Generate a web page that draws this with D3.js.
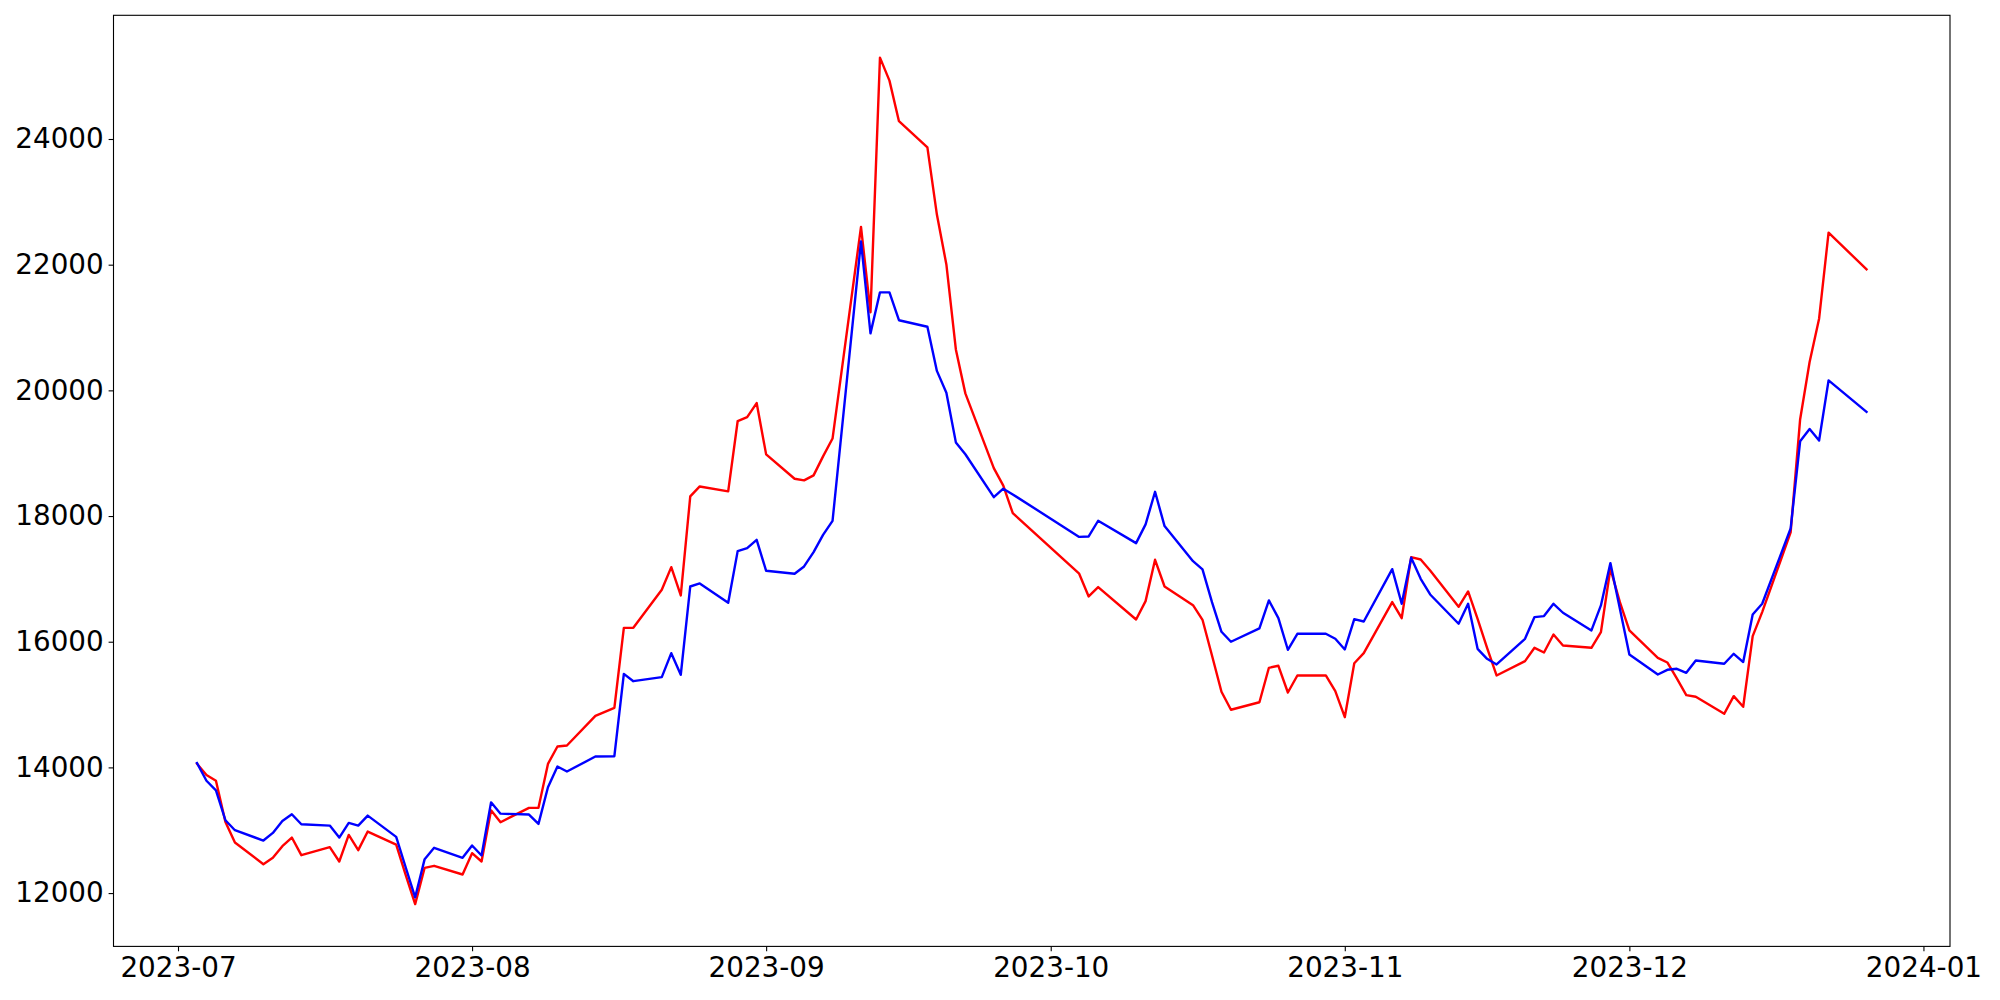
<!DOCTYPE html>
<html>
<head>
<meta charset="utf-8">
<script src="https://cdn.jsdelivr.net/npm/d3@7"></script>
<style>
  html, body { margin: 0; padding: 0; background: #fff; }
  svg { display: block; }
  .tick text { font-family: "DejaVu Sans", sans-serif; font-size: 27.8px; fill: #000; }
</style>
</head>
<body>
<script>
// trading days, Jul 3 - Dec 26 2023
var dates = [
  "2023-07-03","2023-07-04","2023-07-05","2023-07-06","2023-07-07","2023-07-10","2023-07-11","2023-07-12","2023-07-13","2023-07-14",
  "2023-07-17","2023-07-18","2023-07-19","2023-07-20","2023-07-21","2023-07-24","2023-07-25","2023-07-26","2023-07-27","2023-07-28","2023-07-31",
  "2023-08-01","2023-08-02","2023-08-03","2023-08-04","2023-08-07","2023-08-08","2023-08-09","2023-08-10","2023-08-11","2023-08-14",
  "2023-08-16","2023-08-17","2023-08-18","2023-08-21","2023-08-22","2023-08-23","2023-08-24","2023-08-25","2023-08-28","2023-08-29","2023-08-30","2023-08-31",
  "2023-09-01","2023-09-04","2023-09-05","2023-09-06","2023-09-07","2023-09-08","2023-09-11","2023-09-12","2023-09-13","2023-09-14",
  "2023-09-15","2023-09-18","2023-09-19","2023-09-20","2023-09-21","2023-09-22","2023-09-25","2023-09-26","2023-09-27",
  "2023-10-04","2023-10-05","2023-10-06","2023-10-10","2023-10-11","2023-10-12","2023-10-13","2023-10-16","2023-10-17","2023-10-18",
  "2023-10-19","2023-10-20","2023-10-23","2023-10-24","2023-10-25","2023-10-26","2023-10-27","2023-10-30","2023-10-31",
  "2023-11-01","2023-11-02","2023-11-03","2023-11-06","2023-11-07","2023-11-08","2023-11-09","2023-11-10","2023-11-13","2023-11-14",
  "2023-11-15","2023-11-16","2023-11-17","2023-11-20","2023-11-21","2023-11-22","2023-11-23","2023-11-24","2023-11-27","2023-11-28","2023-11-29","2023-11-30",
  "2023-12-01","2023-12-04","2023-12-05","2023-12-06","2023-12-07","2023-12-08","2023-12-11","2023-12-12","2023-12-13","2023-12-14",
  "2023-12-15","2023-12-18","2023-12-19","2023-12-20","2023-12-21","2023-12-22","2023-12-26"
];

var redValues = [
  14058,13878,13788,13132,12804,12460,12561,12746,12884,12603,
  12730,12503,12926,12683,12979,12772,12290,11825,12402,12434,12296,
  12635,12503,13317,13128,13356,13356,14056,14332,14348,14821,
  14948,16221,16221,16826,17187,16736,18312,18471,18392,19512,19575,19798,
  18981,18593,18567,18647,18950,19233,22601,21243,25295,24929,
  24284,23868,22797,22004,20652,19952,18763,18483,18045,
  17082,16720,16869,16354,16646,17304,16879,16582,16349,15781,
  15203,14917,15037,15585,15617,15192,15463,15463,15213,
  14799,15658,15818,16630,16375,17346,17309,17134,16555,16800,
  16365,15903,15463,15691,15903,15829,16115,15940,15903,16152,17161,16630,
  16179,15744,15670,15415,15150,15124,14853,15134,14965,16089,
  16471,17739,19537,20451,21140,22510,21926
];

var blueValues = [
  14069,13788,13635,13159,13000,12836,12958,13148,13254,13095,
  13074,12884,13116,13074,13233,12894,12411,11933,12540,12720,12561,
  12757,12598,13444,13264,13250,13101,13685,14014,13934,14173,
  14178,15489,15372,15436,15818,15473,16879,16927,16619,17442,17490,17622,
  17129,17081,17198,17426,17700,17922,22370,20907,21560,21560,
  21116,21012,20310,19963,19172,18983,18301,18435,18344,
  17668,17675,17925,17569,17867,18386,17840,17282,17150,16630,
  16158,15999,16211,16657,16375,15872,16126,16126,16047,
  15877,16359,16322,17155,16604,17336,17002,16752,16286,16604,
  15887,15728,15638,16047,16392,16408,16604,16461,16180,16578,17251,16524,
  15797,15479,15553,15569,15505,15702,15649,15808,15676,16434,
  16604,17801,19190,19385,19202,20159,19659
];

var yTicks = [12000, 14000, 16000, 18000, 20000, 22000, 24000];
var xTickLabels = ["2023-07","2023-08","2023-09","2023-10","2023-11","2023-12","2024-01"];

var width = 2000, height = 1000;
var margin = {top: 15.3, right: 50, bottom: 53.6, left: 113.5};
var pw = width - margin.left - margin.right,
    ph = height - margin.top - margin.bottom;

var parse = d3.timeParse("%Y-%m-%d");
var parseMonth = d3.timeParse("%Y-%m");
var xs = dates.map(parse);

// 5% margins like the original
var xExt = d3.extent(xs);
var xPad = (xExt[1] - xExt[0]) * 0.05;
var allVals = redValues.concat(blueValues);
var yExt = d3.extent(allVals);
var yPad = (yExt[1] - yExt[0]) * 0.05;

var x = d3.scaleTime()
  .domain([new Date(+xExt[0] - xPad), new Date(+xExt[1] + xPad)])
  .range([0, pw]);
var y = d3.scaleLinear()
  .domain([yExt[0] - yPad, yExt[1] + yPad])
  .range([ph, 0]);

var svg = d3.select("body").append("svg")
  .attr("width", width)
  .attr("height", height);

var g = svg.append("g")
  .attr("transform", "translate(" + margin.left + "," + margin.top + ")");

var line = d3.line()
  .x(function(d, i) { return x(xs[i]); })
  .y(function(d) { return y(d); });

var series = [
  {values: redValues, color: "#ff0000"},
  {values: blueValues, color: "#0000ff"}
];

g.selectAll("path.series")
  .data(series)
  .enter().append("path")
    .attr("class", "series")
    .attr("fill", "none")
    .attr("stroke", function(d) { return d.color; })
    .attr("stroke-width", 2.4)
    .attr("stroke-linejoin", "round")
    .attr("stroke-linecap", "square")
    .attr("d", function(d) { return line(d.values); });

var xAxis = d3.axisBottom(x)
  .tickValues(xTickLabels.map(parseMonth))
  .tickFormat(d3.timeFormat("%Y-%m"))
  .tickSizeInner(4.9)
  .tickSizeOuter(0)
  .tickPadding(4.9);

var yAxis = d3.axisLeft(y)
  .tickValues(yTicks)
  .tickFormat(d3.format("d"))
  .tickSizeInner(4.9)
  .tickSizeOuter(0)
  .tickPadding(4.9);

var gx = g.append("g")
  .attr("transform", "translate(0," + ph + ")")
  .call(xAxis);
var gy = g.append("g").call(yAxis);

[gx, gy].forEach(function(a) {
  a.select(".domain").remove();
  a.selectAll(".tick line").attr("stroke", "#000").attr("stroke-width", 1.1);
});
gx.selectAll(".tick text").attr("dy", "0.76em");

// frame
g.append("rect")
  .attr("x", 0).attr("y", 0)
  .attr("width", pw).attr("height", ph)
  .attr("fill", "none")
  .attr("stroke", "#000")
  .attr("stroke-width", 1.1);
</script>
</body>
</html>
